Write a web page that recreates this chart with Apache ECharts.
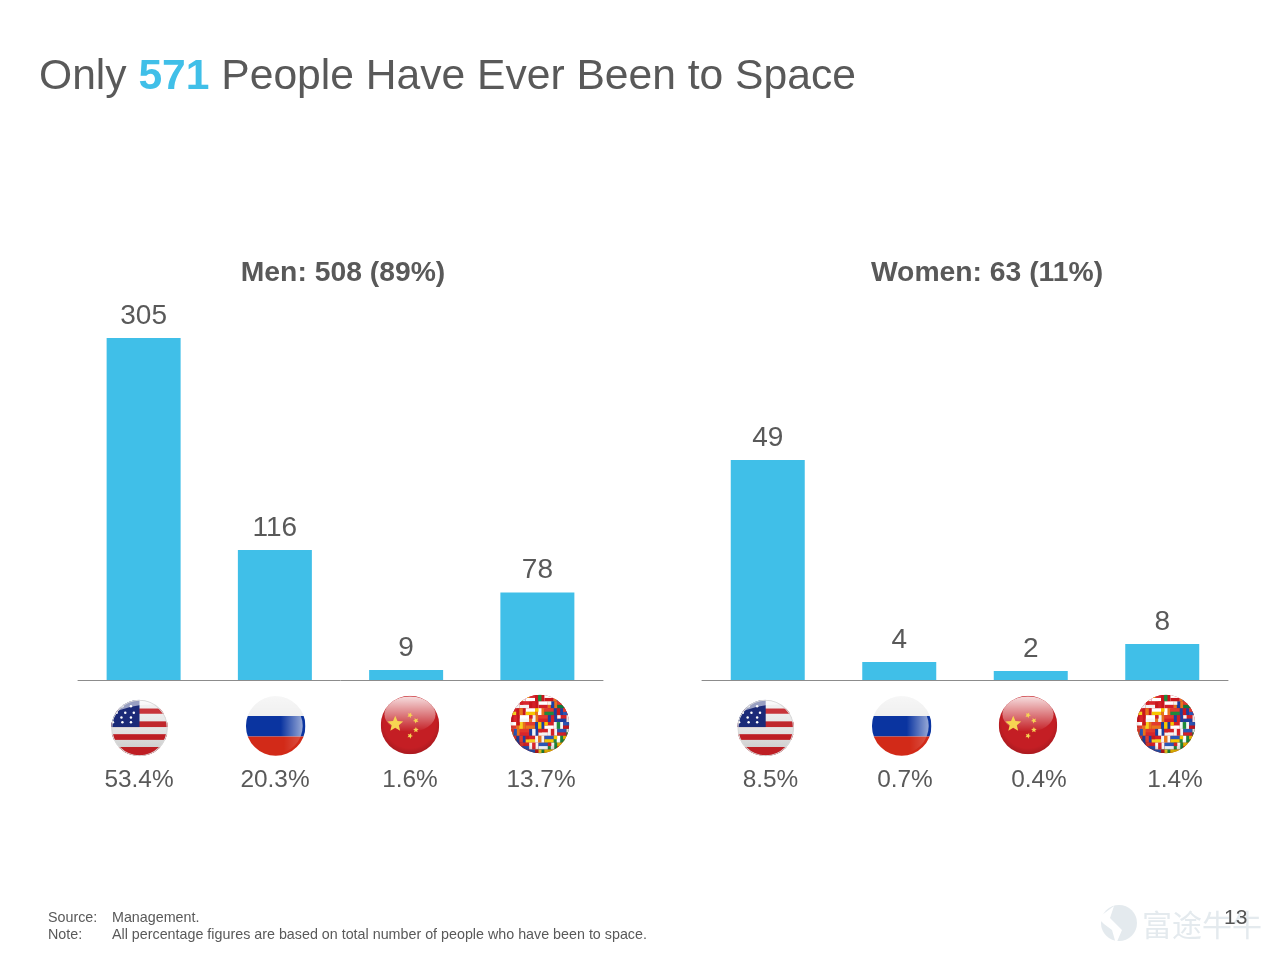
<!DOCTYPE html>
<html><head><meta charset="utf-8">
<style>html,body{margin:0;padding:0;background:#fff}#c{width:1280px;height:960px}</style>
<script src="https://cdn.jsdelivr.net/npm/echarts@6/dist/echarts.min.js"></script>
</head><body><div id="c"></div>
<script>
const categories = ['United States', 'Russia', 'China', 'Other'];
const menValues = [305, 116, 9, 78];
const womenValues = [49, 4, 2, 8];
const menShares = ['53.4%', '20.3%', '1.6%', '13.7%'];
const womenShares = ['8.5%', '0.7%', '0.4%', '1.4%'];
const titleParts = ['Only ', '571', ' People Have Ever Been to Space'];
const menTitle = 'Men: 508 (89%)';
const womenTitle = 'Women: 63 (11%)';
const sourceLines = [['Source:', 'Management.'], ['Note:', 'All percentage figures are based on total number of people who have been to space.']];
const pageNumber = '13';
const watermark = '富途牛牛';

const BLUE = '#40BFE8', GREY = '#595959';

function wrap(inner) {
  return 'data:image/svg+xml;charset=utf-8,' + encodeURIComponent(
    '<svg xmlns="http://www.w3.org/2000/svg" viewBox="0 0 120 120" width="240" height="240"><defs>' +
    '<clipPath id="k"><circle cx="60" cy="60" r="59.5"/></clipPath>' +
    '<clipPath id="i"><circle cx="58" cy="60" r="56"/></clipPath>' +
    '<linearGradient id="g" x1="0" y1="0" x2="0" y2="1"><stop offset="0" stop-color="#fff" stop-opacity=".85"/><stop offset="1" stop-color="#fff" stop-opacity="0"/></linearGradient>' +
    '<linearGradient id="h" x1="0" y1="0" x2="1" y2="0"><stop offset="0" stop-color="#fff" stop-opacity="0"/><stop offset="1" stop-color="#fff" stop-opacity=".6"/></linearGradient>' +
    '<linearGradient id="v" x1="0" y1="0" x2="0" y2="1"><stop offset="0" stop-color="#f4f4f4"/><stop offset=".6" stop-color="#e0e0e0"/><stop offset="1" stop-color="#c4c4c4"/></linearGradient>' +
    '<radialGradient id="s" cx=".5" cy=".45" r=".55"><stop offset=".8" stop-color="#000" stop-opacity="0"/><stop offset="1" stop-color="#000" stop-opacity=".2"/></radialGradient>' +
    '</defs><g clip-path="url(#k)">' + inner + '</g></svg>');
}
function star(cx, cy, r, rot) {
  let p = [];
  for (let i = 0; i < 10; i++) {
    const a = (rot || 0) + i * Math.PI / 5 - Math.PI / 2, q = i % 2 ? r * 0.45 : r;
    p.push((cx + q * Math.cos(a)).toFixed(2) + ',' + (cy + q * Math.sin(a)).toFixed(2));
  }
  return '<polygon fill="#F6D552" points="' + p.join(' ') + '"/>';
}
function usFlag() {
  let s = '<rect width="120" height="120" fill="url(#v)"/>' +
      '<rect y="19" width="120" height="11" fill="#C8343A"/><rect y="46" width="120" height="12" fill="#C0272D"/>' +
      '<rect y="73" width="120" height="12" fill="#BE1E24"/><rect y="100" width="120" height="18" fill="#BE1E24"/>' +
      '<rect width="60" height="58" fill="#1B2A78"/>';
  [[24,14],[42,14],[12,28],[30,28],[48,28],[22,38],[42,38],[4,48],[24,48],[42,48]].forEach(d => { s += '<circle cx="'+d[0]+'" cy="'+d[1]+'" r="2.6" fill="#fff"/>'; });
  s += '<path d="M0 0H120V14Q60 2 0 30Z" fill="#fff" opacity=".55"/>';
  s += '<circle cx="60" cy="60" r="58.5" fill="none" stroke="#d8d8d8" stroke-width="2.5"/>';
  return wrap(s);
}
function ruFlag() {
  let s = '<rect width="120" height="40" fill="#f0f0f0"/><rect y="40" width="120" height="41" fill="#0A34A0"/><rect y="81" width="120" height="39" fill="#D22A18"/>' +
    '<g clip-path="url(#i)"><rect x="70" y="40" width="46" height="41" fill="url(#h)"/><rect x="76" y="81" width="40" height="39" fill="url(#h)" opacity=".35"/></g>' +
    '<rect width="120" height="40" fill="url(#g)" opacity=".5"/>';
  return wrap(s);
}
function cnFlag() {
  let s = '<rect width="120" height="120" fill="#C41E24"/><ellipse cx="60" cy="38" rx="52" ry="36" fill="url(#g)"/>' +
    star(30, 58, 17) + star(60, 40, 6, .4) + star(72, 51, 6, .8) + star(72, 70, 6, 0) + star(60, 82, 6, .4) +
    '<rect width="120" height="120" fill="url(#s)" opacity=".7"/>';
  return wrap(s);
}
function worldFlag() {
  const cols = ['#D32027','#F5D21F','#1E8A3C','#f4f4f4','#1B3FA0','#E8731C','#C8161D','#f2f2f2','#0E7A3A','#F7C600','#2A55B5','#D32027','#E23A2E','#ffffff','#D9262C'];
  let s = '<rect width="120" height="120" fill="#C9252B"/>';
  let n = 0;
  for (let r = 0; r < 9; r++) {
    for (let c = 0; c < 7; c++) {
      const col = cols[(n * 7 + r * 3) % cols.length], col2 = cols[(n * 4 + 5) % cols.length], col3 = cols[(n * 11 + 2) % cols.length];
      n++;
      const x = c * 19 + (r % 2) * 7 - 7, y = r * 14;
      s += '<rect x="'+x+'" y="'+y+'" width="19" height="14" fill="'+col+'"/>';
      if (n % 2) s += '<rect x="'+x+'" y="'+(y+7)+'" width="19" height="7" fill="'+col2+'"/>';
      else s += '<rect x="'+(x+6)+'" y="'+y+'" width="7" height="14" fill="'+col2+'"/>';
      if (n % 3 === 0) s += '<rect x="'+x+'" y="'+y+'" width="7" height="7" fill="'+col3+'"/>';
    }
  }
  s += '<rect width="120" height="120" fill="url(#s)"/>';
  return wrap(s);
}
const flagImages = [usFlag(), ruFlag(), cnFlag(), worldFlag()];
const flagSpots = [
  [[139.5, 728, 28.5], [275.7, 726, 30], [410, 725, 29.5], [540, 724, 29.5]],
  [[765.7, 728, 28.5], [901.7, 726, 30], [1028, 725, 29.5], [1166, 724, 29.5]]
];
const shareX = [[139, 275, 410, 541], [770.5, 905, 1039, 1175]];

const gfx = [];
flagSpots.forEach(group => group.forEach((f, i) => {
  gfx.push({ type: 'image', silent: true, style: { image: flagImages[i], x: f[0] - f[2], y: f[1] - f[2], width: f[2] * 2, height: f[2] * 2 } });
}));
[menShares, womenShares].forEach((arr, g) => arr.forEach((t, i) => {
  gfx.push({ type: 'text', silent: true, style: { text: t, x: shareX[g][i], y: 780, align: 'center', verticalAlign: 'middle', font: '24.4px "Liberation Sans"', fill: GREY } });
}));
sourceLines.forEach((l, i) => {
  const y = 918.5 + i * 17;
  gfx.push({ type: 'text', silent: true, style: { text: l[0], x: 48, y, verticalAlign: 'middle', font: '14.3px "Liberation Sans"', fill: GREY } });
  gfx.push({ type: 'text', silent: true, style: { text: l[1], x: 112, y, verticalAlign: 'middle', font: '14.3px "Liberation Sans"', fill: GREY } });
});
// watermark
gfx.push({ type: 'circle', silent: true, shape: { cx: 1119, cy: 923, r: 18 }, style: { fill: '#E4EAEE' } });
gfx.push({ type: 'polygon', silent: true, shape: { points: [[1098, 918], [1114, 906], [1110, 918], [1122, 930], [1116, 944], [1112, 930], [1104, 924]] }, style: { fill: '#fff' } });
gfx.push({ type: 'text', silent: true, style: { text: watermark, x: 1142, y: 925, verticalAlign: 'middle', font: '30px "Noto Sans CJK SC"', fill: '#E4EAEE' } });
gfx.push({ type: 'text', silent: true, style: { text: pageNumber, x: 1224, y: 918.5, verticalAlign: 'middle', font: '21px "Liberation Sans"', fill: '#555' } });

function barSeries(idx, data) {
  return {
    type: 'bar', xAxisIndex: idx, yAxisIndex: idx, data, barWidth: 74, silent: true,
    itemStyle: { color: BLUE },
    label: { show: true, position: 'top', distance: 8, fontSize: 28, color: GREY, fontFamily: 'Liberation Sans' }
  };
}
function xAxis(idx) {
  return { type: 'category', gridIndex: idx, data: categories, axisTick: { show: false }, axisLabel: { show: false },
    axisLine: { lineStyle: { color: '#8c8c8c', width: 1 } } };
}
const chart = echarts.init(document.getElementById('c'), null, { renderer: 'canvas' });
chart.setOption({
  animation: false,
  backgroundColor: '#fff',
  title: [
    { text: '{a|' + titleParts[0] + '}{b|' + titleParts[1] + '}{a|' + titleParts[2] + '}', left: 39, top: 56, padding: 0,
      textStyle: { rich: {
        a: { fontSize: 42.6, color: GREY, fontWeight: 'normal', fontFamily: 'Liberation Sans' },
        b: { fontSize: 42.6, color: BLUE, fontWeight: 'bold', fontFamily: 'Liberation Sans' } } } },
    { text: menTitle, left: 343, top: 259, textAlign: 'center', padding: 0, textStyle: { fontSize: 28.3, fontWeight: 'bold', color: GREY, fontFamily: 'Liberation Sans' } },
    { text: womenTitle, left: 987, top: 259, textAlign: 'center', padding: 0, textStyle: { fontSize: 28.3, fontWeight: 'bold', color: GREY, fontFamily: 'Liberation Sans' } }
  ],
  grid: [
    { left: 78, width: 525, top: 338, height: 342 },
    { left: 702, width: 526, top: 460, height: 220 }
  ],
  xAxis: [xAxis(0), xAxis(1)],
  yAxis: [
    { type: 'value', gridIndex: 0, min: 0, max: 305, show: false },
    { type: 'value', gridIndex: 1, min: 0, max: 49, show: false }
  ],
  series: [barSeries(0, menValues), barSeries(1, womenValues)],
  graphic: gfx
});
</script></body></html>
